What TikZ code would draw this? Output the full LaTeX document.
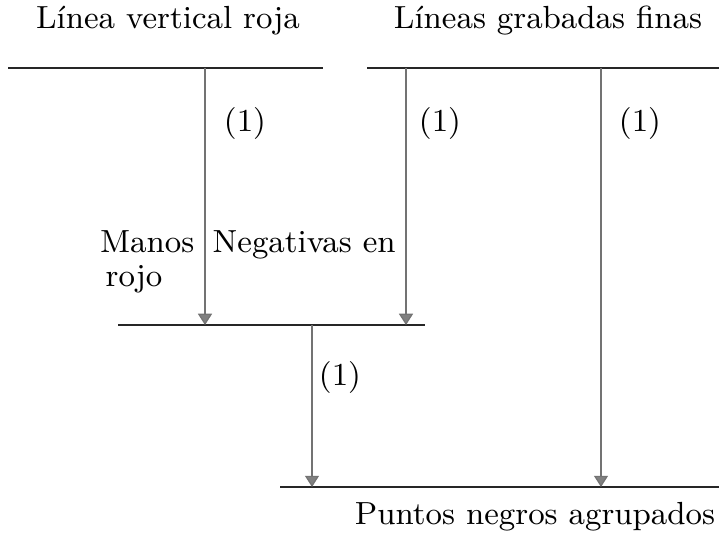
\documentclass[tikz,border=0pt]{standalone}
\usepackage{xcolor}
\usepackage{tikz}
\usetikzlibrary{arrows.meta, positioning, calc}

\begin{document}
\begin{tikzpicture}[
      x=0.01cm, y=-0.01cm,
      font=\fontsize{9.1}{11}\selectfont,
      bar/.style={line width=0.6pt, draw=black!85},
      flow/.style={line width=0.35pt, draw=black!55,
        -{Triangle[width=4pt, length=3.2pt, fill=black!50]}},
      lbl/.style={inner sep=0pt, anchor=base}
    ]
      \useasboundingbox (0,0) rectangle (719,537);
      % titulos
      \node[lbl] (roja) at (168,29) {Línea vertical roja};
      \node[lbl] (finas) at (548,29) {Líneas grabadas finas};
      \node[lbl] (puntos) at (535,524) {Puntos negros agrupados};
      % barras horizontales
      \coordinate (a1) at (8,68);    \coordinate (a2) at (323,68);
      \coordinate (b1) at (367,68);  \coordinate (b2) at (719,68);
      \coordinate (c1) at (118,325); \coordinate (c2) at (425,325);
      \coordinate (d1) at (280,487); \coordinate (d2) at (719,487);
      \draw[bar] (a1) -- (a2);
      \draw[bar] (b1) -- (b2);
      \draw[bar] (c1) -- (c2);
      \draw[bar] (d1) -- (d2);
      % flechas
      \coordinate (ra) at (205,68);  \coordinate (rc) at (205,325);
      \coordinate (fa) at (406,68);  \coordinate (fc) at (406,325);
      \coordinate (fb) at (601,68);  \coordinate (fd) at (601,487);
      \coordinate (mc) at (312,325); \coordinate (md) at (312,487);
      \draw[flow] (ra) -- (rc);
      \draw[flow] (fa) -- (fc);
      \draw[flow] (fb) -- (fd);
      \draw[flow] (mc) -- (md);
      % etiquetas
      \node[lbl] (n1) at (245,132) {(1)};
      \node[lbl] (n2) at (440,132) {(1)};
      \node[lbl] (n3) at (640,132) {(1)};
      \node[lbl] (n4) at (340,385) {(1)};
      \node[lbl, anchor=base east] (manos) at (195,252) {Manos};
      \node[lbl, anchor=base west] (neg) at (212,252) {Negativas en};
      \node[lbl, anchor=base west] (rojo) at (105,287) {rojo};
    \end{tikzpicture}
\end{document}
